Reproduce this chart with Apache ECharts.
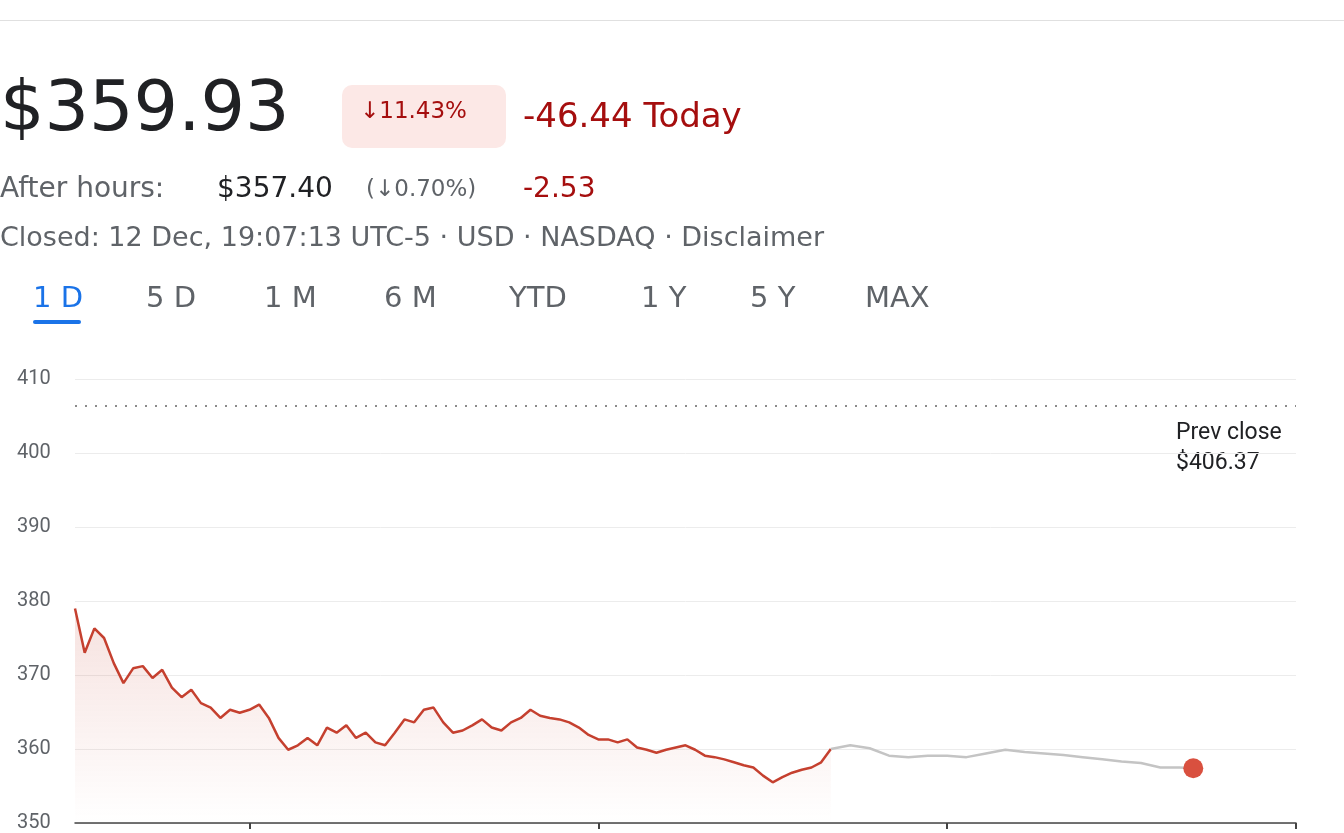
<!DOCTYPE html>
<html>
<head>
<meta charset="utf-8">
<script src="https://cdn.jsdelivr.net/npm/echarts@6/dist/echarts.min.js"></script>
<style>html,body{margin:0;padding:0;background:#fff}#chart{width:1344px;height:833px}</style>
</head>
<body>
<div id="chart"></div>
<script>
// regular session, 5 minute steps from 09:30
var sessionStart = '09:30';
var sessionPrices = [379.0,373.0,376.3,375.0,371.6,368.9,370.9,371.2,369.6,370.7,
	368.3,367.0,368.0,366.2,365.6,364.2,365.3,364.9,365.3,366.0,
	364.2,361.5,359.9,360.5,361.5,360.5,362.9,362.2,363.2,361.5,
	362.2,360.9,360.5,362.2,364.0,363.6,365.3,365.6,363.6,362.2,
	362.5,363.2,364.0,362.9,362.5,363.6,364.2,365.3,364.5,364.2,
	364.0,363.6,362.9,361.9,361.3,361.3,360.9,361.3,360.2,359.9,
	359.5,359.9,360.2,360.5,359.9,359.1,358.9,358.6,358.2,357.8,
	357.5,356.4,355.5,356.2,356.8,357.2,357.5,358.2,360.0];
var afterTimes = ['16:00','16:10','16:20','16:30','16:40','16:50','17:00','17:10','17:20','17:30',
	'17:40','17:50','18:00','18:10','18:20','18:30','18:40','18:50','19:00','19:07'];
var afterPrices = [360.0,360.5,360.1,359.1,358.9,359.1,359.1,358.9,359.4,359.9,
	359.6,359.4,359.2,358.9,358.6,358.3,358.1,357.5,357.5,357.4];
var prevClose = 406.37;
var yTicks = [350, 410, 10];
var xTicks = ['11:00','14:00','17:00','20:00'];

function mins(t) { var p = t.split(':'); return +p[0] * 60 + +p[1]; }

var red = '#c5402f';
var sessionData = sessionPrices.map(function(v, i) { return [mins(sessionStart) + i * 5, v]; });
var afterData = afterTimes.map(function(t, i) { return [mins(t), afterPrices[i]]; });
var last = afterData[afterData.length - 1];

var txt = function(x, y, text, size, color) {
	return {type: 'text', x: x, y: y,
		style: {text: text, font: size + 'px "DejaVu Sans"', fill: color, verticalAlign: 'middle'}};
};

var chart = echarts.init(document.getElementById('chart'));
chart.setOption({
	animation: false,
	grid: {left: 75, right: 48, top: 379, bottom: 7},
	xAxis: {
		type: 'value', min: mins('09:30'), max: mins('20:00'),
		splitLine: {show: false},
		axisLine: {lineStyle: {color: '#444', width: 1.5}},
		axisTick: {show: true, length: 6, customValues: xTicks.map(mins), lineStyle: {color: '#444', width: 2}},
		axisLabel: {show: false}
	},
	yAxis: {
		type: 'value', min: yTicks[0], max: yTicks[1], interval: yTicks[2],
		axisLine: {show: false}, axisTick: {show: false},
		splitLine: {lineStyle: {color: '#ececec'}},
		axisLabel: {color: '#5f6368', fontSize: 20, fontFamily: 'Roboto', align: 'left', margin: 58}
	},
	series: [{
		type: 'line', data: sessionData, showSymbol: false,
		lineStyle: {color: red, width: 2.5},
		areaStyle: {origin: 'start', color: new echarts.graphic.LinearGradient(0, 0, 0, 1, [
			{offset: 0, color: 'rgba(197,64,47,0.22)'}, {offset: 1, color: 'rgba(197,64,47,0)'}])},
		markLine: {
			silent: true, symbol: 'none', label: {show: false},
			lineStyle: {color: '#666', type: [2, 8], width: 1.5},
			data: [{yAxis: prevClose}]
		}
	}, {
		type: 'line', data: afterData, showSymbol: false,
		lineStyle: {color: '#c4c4c4', width: 2.5},
		markPoint: {
			symbol: 'circle', symbolSize: 20, label: {show: false},
			itemStyle: {color: '#d9503f'},
			data: [{coord: last}]
		}
	}],
	graphic: [
		{type: 'rect', shape: {x: 0, y: 20, width: 1344, height: 1}, style: {fill: '#e0e0e0'}},
		txt(0, 112, '$359.93', 70, '#202124'),
		{type: 'rect', shape: {x: 342, y: 85, width: 164, height: 63, r: 10}, style: {fill: '#fce8e6'}},
		txt(360, 112, '↓11.43%', 23, '#a50e0e'),
		txt(523, 118, '-46.44 Today', 34, '#a50e0e'),
		txt(0, 190, 'After hours:', 28, '#5f6368'),
		txt(217, 190, '$357.40', 28, '#202124'),
		txt(366, 190, '(↓0.70%)', 23, '#5f6368'),
		txt(523, 190, '-2.53', 28, '#a50e0e'),
		txt(0, 239, 'Closed: 12 Dec, 19:07:13 UTC-5 · USD · NASDAQ · Disclaimer', 27, '#5f6368'),
		txt(33, 299, '1 D', 29, '#1a73e8'),
		{type: 'rect', shape: {x: 33, y: 320, width: 48, height: 4, r: 2}, style: {fill: '#1a73e8'}},
		txt(146, 299, '5 D', 29, '#5f6368'),
		txt(264, 299, '1 M', 29, '#5f6368'),
		txt(384, 299, '6 M', 29, '#5f6368'),
		txt(509, 299, 'YTD', 29, '#5f6368'),
		txt(641, 299, '1 Y', 29, '#5f6368'),
		txt(750, 299, '5 Y', 29, '#5f6368'),
		txt(865, 299, 'MAX', 29, '#5f6368'),
		{type: 'text', left: 1176, top: 418, style: {text: 'Prev close\n$' + prevClose.toFixed(2),
			font: '23px Roboto', fill: '#202124', lineHeight: 30}}
	]
});
</script>
</body>
</html>
